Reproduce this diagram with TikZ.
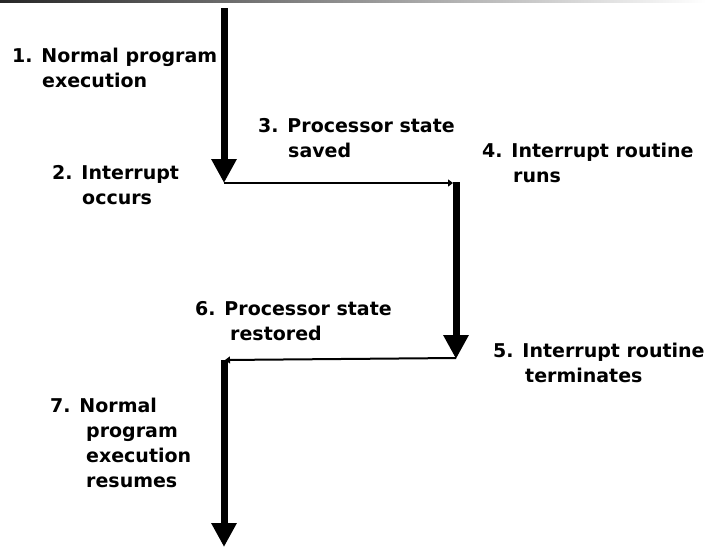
\documentclass[tikz,border=0pt]{standalone}
\usepackage{fontspec}
\setmainfont{DejaVu Sans}
\usetikzlibrary{arrows.meta}
\newcommand{\steptext}[3]{\node[lbl] (#1) at (#2) {#3};}

\begin{document}
\begin{tikzpicture}[x=1pt,y=-1pt,>=Stealth,
  thick flow/.style={line width=7pt,-{Triangle[length=24pt,width=24pt]}},
  thin flow/.style={line width=2pt,-{Triangle[length=5pt,width=7pt]}},
  lbl/.style={anchor=base west,align=left,inner sep=0pt,font=\fontsize{19}{25}\selectfont\bfseries}]
\useasboundingbox (0,0) rectangle (706,546);
\shade[left color=black!85,right color=white] (0,0) rectangle (706,2);
% corners of the flow
\coordinate (top) at (224,8);
\coordinate (irq) at (224,183);
\coordinate (isr) at (456,183);
\coordinate (isrend) at (456,359);
\coordinate (resume) at (224,360);
\coordinate (bottom) at (224,547);
\draw[thick flow] (top)--(irq);
\draw[thin flow] (irq)--([xshift=-3pt]isr);
\draw[thick flow] ([yshift=1pt]isr)--(isrend);
\draw[thin flow] ([yshift=1pt]isrend)--([xshift=1pt]resume);
\draw[thick flow] (resume)--(bottom);
% labels (placed at the baseline of the last line)
\steptext{s1}{12,87}{1. Normal program\\\hspace*{30pt}execution}
\steptext{s2}{52,204}{2. Interrupt\\\hspace*{30pt}occurs}
\steptext{s3}{258,157}{3. Processor state\\\hspace*{30pt}saved}
\steptext{s4}{482,182}{4. Interrupt routine\\\hspace*{31pt}runs}
\steptext{s5}{493,382}{5. Interrupt routine\\\hspace*{32pt}terminates}
\steptext{s6}{195,340}{6. Processor state\\\hspace*{35pt}restored}
\steptext{s7}{50,487}{7. Normal\\\hspace*{36pt}program\\\hspace*{36pt}execution\\\hspace*{36pt}resumes}
\end{tikzpicture}
\end{document}
